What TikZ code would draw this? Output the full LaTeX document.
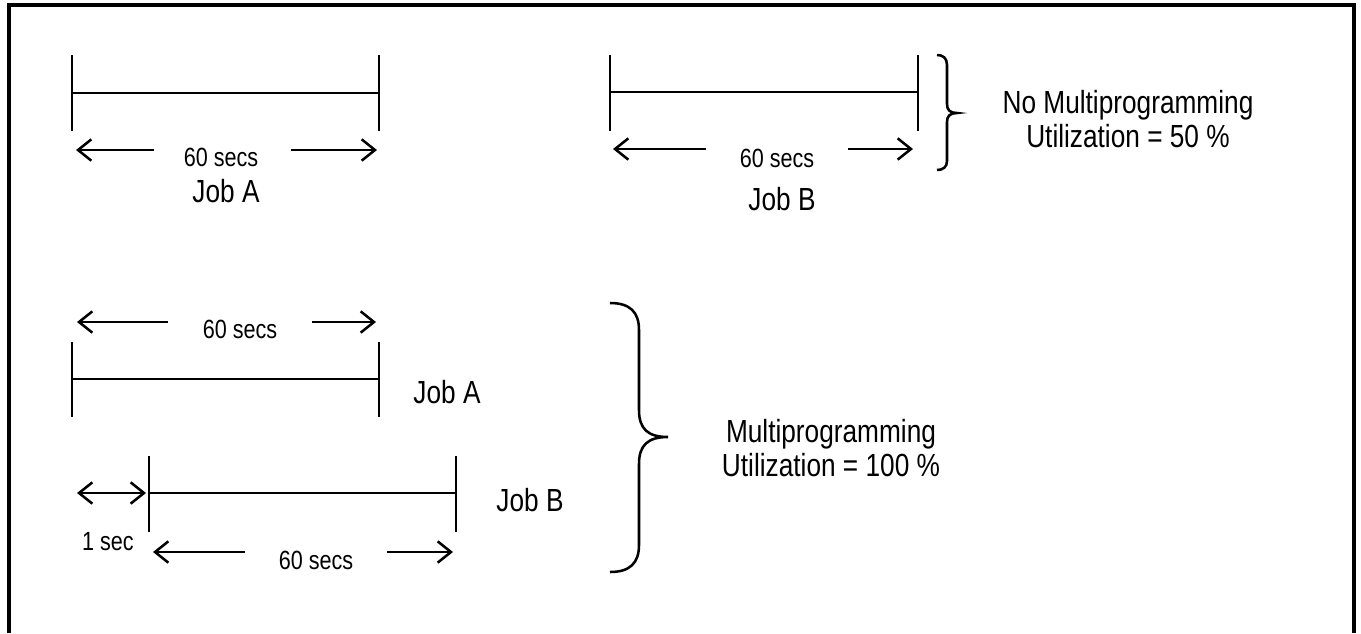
\documentclass[tikz,border=0pt]{standalone}
\usepackage{fontspec}
\setmainfont[FakeStretch=0.82]{Liberation Sans}
\usetikzlibrary{arrows.meta}

\tikzset{
  bar/.style={line width=2.1pt},
  dim/.style={line width=1.9pt, -{Straight Barb[length=10pt,width=16pt,line width=1.9pt]}},
  dimboth/.style={line width=1.9pt, {Straight Barb[length=10pt,width=16pt,line width=1.9pt]}-{Straight Barb[length=10pt,width=16pt,line width=1.9pt]}},
  bigtxt/.style={font=\fontsize{24pt}{26pt}\selectfont, inner sep=0pt, align=center},
  smalltxt/.style={font=\fontsize{19.75pt}{21pt}\selectfont, inner sep=0pt},
  bracestyle/.style={line width=1.9pt},
}

\begin{document}
\begin{tikzpicture}[x=0.75pt,y=-0.75pt]
\useasboundingbox (0,0) rectangle (1361,633);

% outer frame, open at the bottom
\draw[line width=2.6pt] (9,633) -- (9,5) -- (1354,5) -- (1354,633);

% ---------- without multiprogramming ----------
% Job A
\coordinate (a1t) at (72,55);  \coordinate (a1b) at (72,131);
\coordinate (a2t) at (379,55); \coordinate (a2b) at (379,131);
\coordinate (a1m) at (72,93);  \coordinate (a2m) at (379,93);
\draw[bar] (a1t) -- (a1b);
\draw[bar] (a2t) -- (a2b);
\draw[bar] (a1m) -- (a2m);
\node[smalltxt] (secA) at (221,157) {60 secs};
\coordinate (secAl) at (76,150); \coordinate (secAr) at (377,150);
\draw[dim] (154,150) coordinate (secAlt) -- (secAl);
\draw[dim] (291,150) coordinate (secArt) -- (secAr);
\node[bigtxt] (jobA1) at (226,191) {Job A};

% Job B
\coordinate (b1t) at (610,55);  \coordinate (b1b) at (610,131);
\coordinate (b2t) at (918,55);  \coordinate (b2b) at (918,131);
\coordinate (b1m) at (610,92);  \coordinate (b2m) at (918,92);
\draw[bar] (b1t) -- (b1b);
\draw[bar] (b2t) -- (b2b);
\draw[bar] (b1m) -- (b2m);
\node[smalltxt] (secB) at (777,158) {60 secs};
\coordinate (secBl) at (613,149); \coordinate (secBr) at (913,149);
\draw[dim] (706,149) coordinate (secBlt) -- (secBl);
\draw[dim] (848,149) coordinate (secBrt) -- (secBr);
\node[bigtxt] (jobB1) at (782,199) {Job B};

% brace and verdict
\draw[bracestyle] (937,55) .. controls (943,55) and (947,58) .. (947,65)
  -- (947,104) .. controls (947,110) and (950,113) .. (957,113)
  .. controls (950,113) and (947,116) .. (947,122)
  -- (947,161) .. controls (947,167) and (943,170) .. (937,170);
\node[bigtxt] (noMP) at (1128,119) {No Multiprogramming\\Utilization = 50 \%};

% ---------- with multiprogramming ----------
% Job A
\coordinate (c1t) at (72,342);  \coordinate (c1b) at (72,417);
\coordinate (c2t) at (379,342); \coordinate (c2b) at (379,417);
\coordinate (c1m) at (72,379);  \coordinate (c2m) at (379,379);
\draw[bar] (c1t) -- (c1b);
\draw[bar] (c2t) -- (c2b);
\draw[bar] (c1m) -- (c2m);
\node[smalltxt] (secC) at (240,329) {60 secs};
\coordinate (secCl) at (77,322); \coordinate (secCr) at (376,322);
\draw[dim] (168,322) coordinate (secClt) -- (secCl);
\draw[dim] (312,322) coordinate (secCrt) -- (secCr);
\node[bigtxt] (jobA2) at (447,392) {Job A};

% Job B, started one second later
\coordinate (d1t) at (149,456); \coordinate (d1b) at (149,532);
\coordinate (d2t) at (456,456); \coordinate (d2b) at (456,532);
\coordinate (d1m) at (149,493); \coordinate (d2m) at (456,493);
\draw[bar] (d1t) -- (d1b);
\draw[bar] (d2t) -- (d2b);
\draw[bar] (d1m) -- (d2m);
\coordinate (oneL) at (77,493); \coordinate (oneR) at (146,493);
\draw[dimboth] (oneL) -- (oneR);
\node[smalltxt] (oneSec) at (108,542) {1 sec};
\node[smalltxt] (secD) at (316,560) {60 secs};
\coordinate (secDl) at (153,552); \coordinate (secDr) at (453,552);
\draw[dim] (245,552) coordinate (secDlt) -- (secDl);
\draw[dim] (387,552) coordinate (secDrt) -- (secDr);
\node[bigtxt] (jobB2) at (530,500) {Job B};

% brace and verdict
\draw[bracestyle] (610,303) .. controls (630,303) and (639,312) .. (639,330)
  -- (639,410) .. controls (639,429) and (648,437) .. (668,437)
  .. controls (648,437) and (639,445) .. (639,464)
  -- (639,545) .. controls (639,563) and (630,572) .. (610,572);
\node[bigtxt] (MP) at (831,448) {Multiprogramming\\Utilization = 100 \%};
\end{tikzpicture}
\end{document}
